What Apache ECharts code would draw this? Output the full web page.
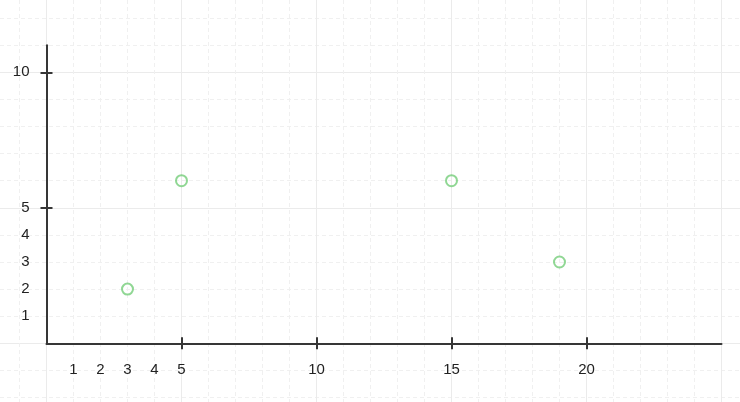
<!DOCTYPE html>
<html>
<head>
<meta charset="utf-8">
<script src="https://cdn.jsdelivr.net/npm/echarts@6/dist/echarts.min.js"></script>
<style>
  html, body { margin:0; padding:0; background:#fff; }
  #chart { width:740px; height:402px; }
</style>
</head>
<body>
<div id="chart"></div>
<script>
// --- 数据 ---
const xs = [3, 5, 15, 19]
const ys = [2, 6, 6, 3]
const xLabelVals = [1, 2, 3, 4, 5, 10, 15, 20]
const yLabelVals = [1, 2, 3, 4, 5, 10]
const xTickVals = [5, 10, 15, 20]
const yTickVals = [5, 10]

// 方格纸线
const paperXMinor = [-1, 0, 1, 2, 3, 4, 5, 6, 7, 8, 9, 10, 11, 12, 13, 14, 15, 16, 17, 18, 19, 20, 21, 22, 23, 24, 25]
const paperXMajor = [0, 5, 10, 15, 20, 25]
const paperYMinor = [-2, -1, 0, 1, 2, 3, 4, 5, 6, 7, 8, 9, 10, 11, 12]
const paperYMajor = [0, 5, 10]

const points = xs.map((x, i) => [x, ys[i]])

// --- 布局 ---
const W = 740, H = 402
const LEFT = 46.5, RIGHT = 18.5, TOP = 45.2, BOTTOM = 58.7
const X_MAX = 25, Y_MAX = 11
const unitX = (W - LEFT - RIGHT) / X_MAX
const unitY = (H - TOP - BOTTOM) / Y_MAX

const AXIS = '#363636'
const labelStyle = { color: '#222', fontSize: 15, fontFamily: 'Liberation Sans, Arial, sans-serif' }

const paperX = [-LEFT / unitX, (W - LEFT) / unitX]
const paperY = [-BOTTOM / unitY, (H - BOTTOM) / unitY]

const paperAxis = (range, vals, line) => ({
  type: 'value', gridIndex: 0, min: range[0], max: range[1],
  axisLine: { show: false }, axisLabel: { show: false },
  axisTick: { show: false, customValues: vals },
  splitLine: { show: true, lineStyle: line }
})
const minorLine = { color: '#f0f0f0', width: 1, type: [4, 3] }
const majorLine = { color: '#ebebeb', width: 1 }

const mainAxis = (max, labels, ticks, margin) => ({
  type: 'value', gridIndex: 1, min: 0, max,
  axisLine: { show: true, lineStyle: { color: AXIS, width: 2 } },
  axisTick: { show: true, customValues: ticks, length: 6, lineStyle: { color: AXIS, width: 2 } },
  axisLabel: { show: true, customValues: labels, margin, ...labelStyle },
  splitLine: { show: false }
})
const innerTicks = (max, ticks) => ({
  type: 'value', gridIndex: 1, min: 0, max,
  axisLine: { show: false },
  axisTick: { show: true, inside: true, customValues: ticks, length: 6, lineStyle: { color: AXIS, width: 2 } },
  axisLabel: { show: false },
  splitLine: { show: false }
})

const chart = echarts.init(document.getElementById('chart'))
chart.setOption({
  animation: false,
  grid: [
    { left: 0, right: 0, top: 0, bottom: 0 },
    { left: LEFT, right: RIGHT, top: TOP, bottom: BOTTOM }
  ],
  xAxis: [
    paperAxis(paperX, paperXMinor, minorLine),
    paperAxis(paperX, paperXMajor, majorLine),
    { ...mainAxis(X_MAX, xLabelVals, xTickVals, 19), position: 'bottom' },
    { ...innerTicks(X_MAX, xTickVals), position: 'bottom' }
  ],
  yAxis: [
    paperAxis(paperY, paperYMinor, minorLine),
    paperAxis(paperY, paperYMajor, majorLine),
    { ...mainAxis(Y_MAX, yLabelVals, yTickVals, 17), position: 'left' },
    { ...innerTicks(Y_MAX, yTickVals), position: 'left' }
  ],
  series: [{
    type: 'scatter',
    xAxisIndex: 2,
    yAxisIndex: 2,
    data: points,
    symbol: 'circle',
    symbolSize: 11,
    itemStyle: { color: 'rgba(0,0,0,0)', borderColor: '#74cd79', borderWidth: 2 }
  }]
})
</script>
</body>
</html>
